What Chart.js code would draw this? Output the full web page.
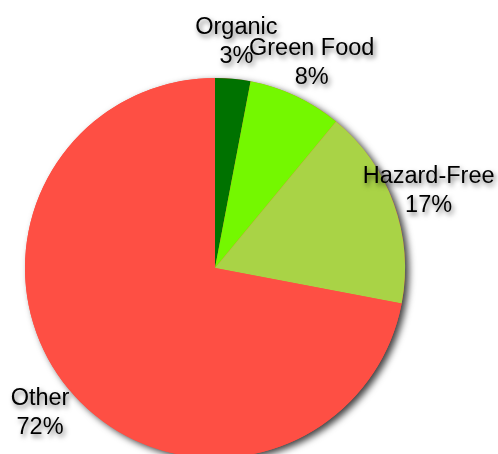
<!DOCTYPE html>
<html>
<head>
<meta charset="utf-8">
<script src="https://cdn.jsdelivr.net/npm/chart.js@4"></script>
<style>
html,body{margin:0;padding:0;background:#fff;overflow:hidden;}
#wrap{width:498px;height:460px;position:relative;}
</style>
</head>
<body>
<div id="wrap"><canvas id="c" width="498" height="460"></canvas></div>
<script>
const categories = ["Organic", "Green Food", "Hazard-Free", "Other"];
const shares = [3, 8, 17, 72];
const sliceColors = ["#007200", "#74f800", "#a9d346", "#fe4f44"];

const pieShadow = {
  id: 'pieShadow',
  beforeDatasetsDraw(chart) {
    const arcs = chart.getDatasetMeta(0).data;
    if (!arcs.length) return;
    const a = arcs[0];
    const ctx = chart.ctx;
    ctx.save();
    ctx.shadowColor = 'rgba(0,0,0,0.75)';
    ctx.shadowBlur = 7;
    ctx.shadowOffsetX = 4;
    ctx.shadowOffsetY = 3;
    ctx.fillStyle = '#fe4f44';
    ctx.beginPath();
    ctx.arc(a.x, a.y, a.outerRadius, 0, Math.PI * 2);
    ctx.fill();
    ctx.restore();
  }
};

const outsideLabels = {
  id: 'outsideLabels',
  afterDatasetsDraw(chart) {
    const arcs = chart.getDatasetMeta(0).data;
    const total = shares.reduce((s, v) => s + v, 0);
    const ctx = chart.ctx;
    ctx.save();
    ctx.font = '23.5px "Liberation Sans", Arial, sans-serif';
    ctx.textAlign = 'center';
    ctx.textBaseline = 'middle';
    ctx.fillStyle = '#000';
    ctx.shadowColor = 'rgba(0,0,0,0.55)';
    ctx.shadowBlur = 5;
    ctx.shadowOffsetX = 2;
    ctx.shadowOffsetY = 3;
    arcs.forEach((arc, i) => {
      const mid = (arc.startAngle + arc.endAngle) / 2;
      const r = arc.outerRadius * 1.195;
      const cx = arc.x + Math.cos(mid) * r;
      const cy = arc.y + Math.sin(mid) * r;
      const pct = Math.round(shares[i] / total * 100) + '%';
      ctx.fillText(categories[i], cx, cy - 14.5);
      ctx.fillText(pct, cx, cy + 14.5);
    });
    ctx.restore();
  }
};

new Chart(document.getElementById('c'), {
  type: 'pie',
  data: {
    labels: categories,
    datasets: [{
      data: shares,
      backgroundColor: sliceColors,
      borderWidth: 0
    }]
  },
  options: {
    responsive: false,
    animation: false,
    layout: { padding: { left: 25, right: 93, top: 78, bottom: 2 } },
    plugins: {
      legend: { display: false },
      tooltip: { enabled: false }
    }
  },
  plugins: [pieShadow, outsideLabels]
});
</script>
</body>
</html>
